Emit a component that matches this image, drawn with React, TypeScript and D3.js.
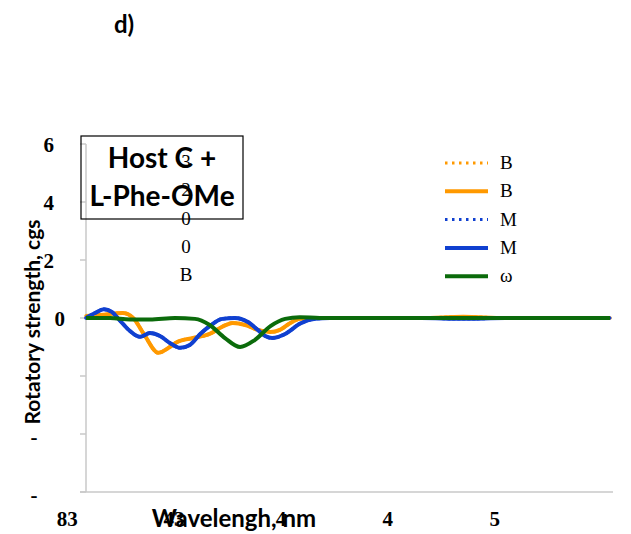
import React from "react";
import * as d3 from "d3";

// ---- data ----
const orangeSeries: [number, number][] = [
  [180, 0.07], [193, 0.1], [215, 0.17], [225, 0], [236, -0.6], [249, -1.2], [260, -1.0],
  [267, -0.83], [282, -0.69], [298, -0.55], [310, -0.3], [320, -0.17], [332, -0.24],
  [344, -0.41], [356, -0.48], [365, -0.41], [375, -0.17], [384, -0.03], [398, 0],
  [500, 0], [540, 0.04], [580, 0], [680, 0],
];
const blueSeries: [number, number][] = [
  [180, 0], [188.6, 0.17], [197, 0.3], [205, 0.2], [212, -0.07], [222, -0.45], [231.5, -0.65],
  [241, -0.52], [250.6, -0.62], [260, -0.86], [269.7, -1.03], [279, -0.93], [289, -0.55],
  [298, -0.28], [310, -0.03], [322, 0], [334.6, -0.14], [344, -0.41], [351, -0.62],
  [357.6, -0.69], [370, -0.55], [384, -0.2], [398.5, -0.03], [413, 0], [500, 0],
  [540, -0.03], [580, 0], [680, 0],
];
const greenSeries: [number, number][] = [
  [180, 0], [203, 0], [222, -0.05], [241, -0.05], [265, 0], [284, -0.03], [298, -0.24],
  [312.6, -0.69], [327, -1.0], [341, -0.76], [356, -0.28], [370, -0.03], [384, 0.03],
  [403, 0], [680, 0],
];

const xTickValues = [162, 264, 366, 468, 570];
const xTickLabels = ["83", "43", "4", "4", "5"];
const yTickValues = [6, 4, 2, 0, -2, -4, -6];
const yTickLabels = ["6", "4", "2", "0", "", "-", "-"];
const legendLabels = ["B", "B", "M", "M", "ω"];
const overlayLabels = ["3", "2", "0", "0", "B"];
const boxLines = ["Host C +", "L-Phe-OMe"];

const ORANGE = "#ff9900";
const BLUE = "#1040d0";
const GREEN = "#0b6b0b";

const series = [
  { data: orangeSeries, color: ORANGE, dotted: true },
  { data: orangeSeries, color: ORANGE, dotted: false },
  { data: blueSeries, color: BLUE, dotted: true },
  { data: blueSeries, color: BLUE, dotted: false },
  { data: greenSeries, color: GREEN, dotted: false },
];

export default function App() {
  const W = 631, H = 534;
  const x = d3.scaleLinear().domain([180, 680]).range([86, 610]);
  const y = d3.scaleLinear().domain([-6, 6]).range([492, 144]);
  const line = d3
    .line<[number, number]>()
    .x((d) => x(d[0]))
    .y((d) => y(d[1]))
    .curve(d3.curveMonotoneX);

  const sans = "Lato, 'Open Sans', sans-serif";
  const serif = "'Liberation Serif', 'DejaVu Serif', serif";
  const legendY = (i: number) => 163 + i * 28.3;

  return (
    <svg
      width={W}
      height={H}
      style={{ position: "absolute", left: 0, top: 0, background: "#fff" }}
    >
      <rect width={W} height={H} fill="#fff" />
      <text x={124} y={33} fontFamily={sans} fontWeight={700} fontSize={24} textAnchor="middle">
        d)
      </text>

      {/* axes */}
      <line x1={x(180)} x2={x(180)} y1={y(6)} y2={y(-6)} stroke="#c8c8c8" strokeWidth={1.5} />
      <line x1={80} x2={x(680) + 3} y1={y(-6)} y2={y(-6)} stroke="#c8c8c8" strokeWidth={1.5} />
      {yTickValues.map((v) => (
        <line key={"t" + v} x1={80} x2={x(180)} y1={y(v)} y2={y(v)} stroke="#c8c8c8" strokeWidth={1.5} />
      ))}
      {yTickValues.map((v, i) => {
        const lab = yTickLabels[i];
        if (!lab) return null;
        if (lab === "-")
          return (
            <text key={"yl" + i} x={34} y={y(v) + 10} fontFamily={serif} fontWeight={700} fontSize={21} textAnchor="middle">
              {lab}
            </text>
          );
        return (
          <text key={"yl" + i} x={v === 0 ? 65 : 54} y={y(v) + 8} fontFamily={serif} fontWeight={700} fontSize={21} textAnchor="end">
            {lab}
          </text>
        );
      })}
      {xTickValues.map((v, i) => (
        <text key={"xl" + i} x={x(v)} y={526} fontFamily={serif} fontWeight={700} fontSize={21} textAnchor="middle">
          {xTickLabels[i]}
        </text>
      ))}
      <text x={234} y={527} fontFamily={sans} fontWeight={700} fontSize={24} textAnchor="middle">
        Wavelengh, nm
      </text>
      <text
        transform="translate(40,322) rotate(-90)"
        fontFamily={sans}
        fontWeight={700}
        fontSize={21}
        textAnchor="middle"
      >
        Rotatory strength, cgs
      </text>

      {/* curves */}
      {series.map((s, i) => (
        <path
          key={"s" + i}
          d={line(s.data) || ""}
          fill="none"
          stroke={s.color}
          strokeWidth={s.dotted ? 3.5 : 4}
          strokeDasharray={s.dotted ? "2 3" : undefined}
          strokeLinecap={s.dotted ? "round" : "butt"}
        />
      ))}

      {/* overlay labels */}
      {overlayLabels.map((t, i) => (
        <text key={"o" + i} x={186} y={legendY(i) + 5} fontFamily={serif} fontSize={19} textAnchor="middle">
          {t}
        </text>
      ))}

      {/* title box */}
      <rect x={81} y={136} width={162} height={83} fill="none" stroke="#000" strokeWidth={1.2} />
      {boxLines.map((t, i) => (
        <text key={"b" + i} x={162} y={168 + i * 38} fontFamily={sans} fontWeight={700} fontSize={28} textAnchor="middle">
          {t}
        </text>
      ))}

      {/* legend */}
      {series.map((s, i) => (
        <g key={"lg" + i}>
          <line
            x1={445}
            x2={488}
            y1={legendY(i)}
            y2={legendY(i)}
            stroke={s.color}
            strokeWidth={s.dotted ? 3 : 4}
            strokeDasharray={s.dotted ? "2.5 4.5" : undefined}
            strokeLinecap="butt"
          />
          <text x={500} y={legendY(i) + 6} fontFamily={serif} fontSize={19}>
            {legendLabels[i]}
          </text>
        </g>
      ))}
    </svg>
  );
}
